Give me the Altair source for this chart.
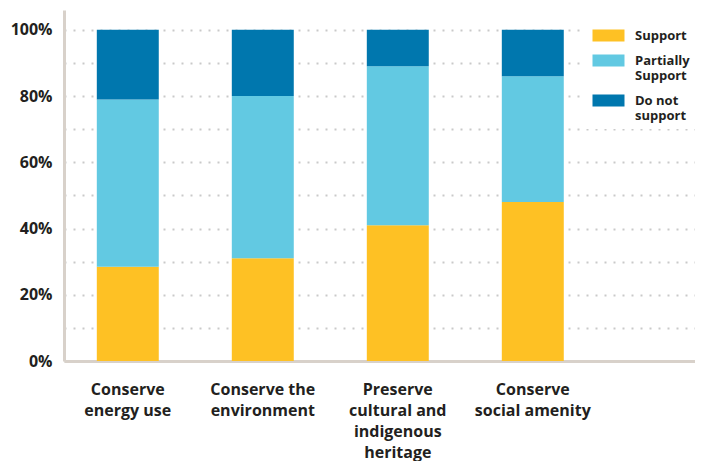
import altair as alt
import pandas as pd

categories = [
    "Conserve|energy use",
    "Conserve the|environment",
    "Preserve|cultural and|indigenous|heritage",
    "Conserve|social amenity",
]
responses = ["Support", "Partially|Support", "Do not|support"]
support_pct = [28.5, 31.0, 41.0, 48.0]
partial_pct = [50.5, 49.0, 48.0, 38.0]
do_not_pct = [21.0, 20.0, 11.0, 14.0]
colors = ["#FEC124", "#62C9E2", "#0077AE"]
y_ticks = [0, 10, 20, 30, 40, 50, 60, 70, 80, 90, 100]

rows = []
for i, cat in enumerate(categories):
    for j, (resp, vals) in enumerate(zip(responses, [support_pct, partial_pct, do_not_pct])):
        rows.append({"category": cat, "response": resp, "value": vals[i], "order": j})
df = pd.DataFrame(rows)

FONT = "Open Sans"
TEXT = "#231F20"
AXIS = "#D8D1CA"

chart = alt.Chart(df).mark_bar().encode(
    x=alt.X(
        "category:N",
        sort=categories,
        scale=alt.Scale(domain=categories, paddingInner=0.541, paddingOuter=0.6075, align=0.2),
        axis=alt.Axis(
            title=None,
            labelAngle=0,
            labelExpr="split(datum.label, '|')",
            labelFont=FONT,
            labelFontSize=16,
            labelFontWeight="bold",
            labelColor=TEXT,
            labelLineHeight=21,
            labelPadding=20,
            labelBaseline="top",
            ticks=False,
            domainColor=AXIS,
            domainWidth=3,
            grid=False,
        ),
    ),
    y=alt.Y(
        "value:Q",
        stack="zero",
        scale=alt.Scale(domain=[0, 106], nice=False),
        axis=alt.Axis(
            title=None,
            values=y_ticks,
            labelExpr="datum.value % 20 == 0 ? datum.value + '%' : ''",
            labelFont=FONT,
            labelFontSize=16,
            labelFontWeight="bold",
            labelColor=TEXT,
            labelPadding=12,
            ticks=False,
            domainColor=AXIS,
            domainWidth=3,
            grid=True,
            gridColor="#C9C9C9",
            gridWidth=2,
            gridDash=[2, 7],
        ),
    ),
    color=alt.Color(
        "response:N",
        sort=responses,
        scale=alt.Scale(domain=responses, range=colors),
        legend=alt.Legend(
            title=None,
            orient="none",
            legendX=522,
            legendY=13,
            padding=6,
            fillColor="white",
            symbolType="M-1,-1H4.333V1H-1Z",
            symbolSize=144,
            symbolStrokeWidth=0,
            symbolOpacity=1,
            labelExpr="split(datum.label, '|')",
            labelFont=FONT,
            labelFontSize=13,
            labelFontWeight="bold",
            labelColor=TEXT,
            labelOffset=30,
            rowPadding=11,
        ),
    ),
    order=alt.Order("order:Q", sort="ascending"),
).properties(
    width=631,
    height=351,
    padding={"left": 56, "top": 2, "right": 0, "bottom": 100},
    autosize="none",
).configure_view(stroke=None)

chart.save("out.html", embed_options={"renderer": "svg", "actions": False})
